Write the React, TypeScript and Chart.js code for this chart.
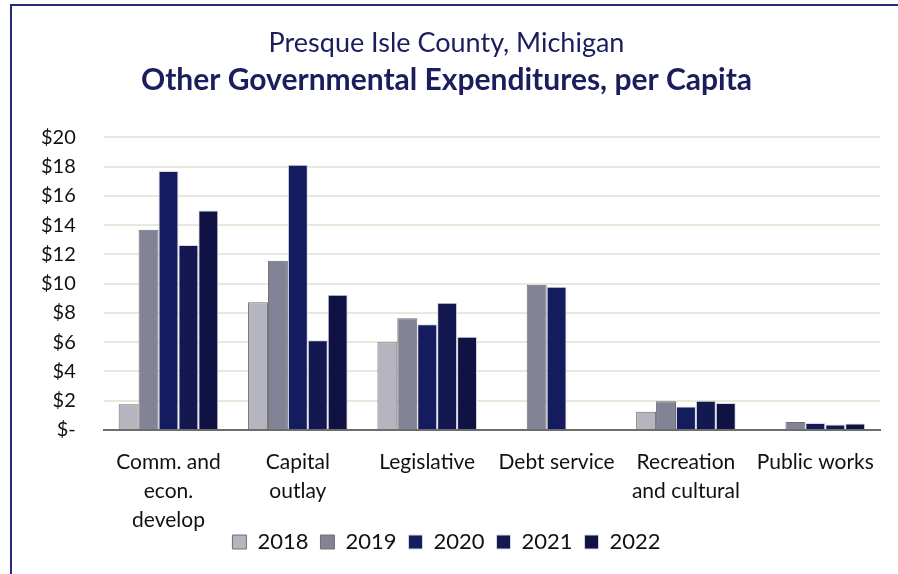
import React, { useEffect, useRef } from "react";
import { Chart, registerables } from "chart.js";

Chart.register(...registerables);

const categories: string[][] = [
  ["Comm. and", "econ.", "develop"],
  ["Capital", "outlay"],
  ["Legislative"],
  ["Debt service"],
  ["Recreation", "and cultural"],
  ["Public works"],
];
const years = ["2018", "2019", "2020", "2021", "2022"];
const v2018 = [1.76, 8.73, 5.99, 0, 1.25, 0];
const v2019 = [13.68, 11.57, 7.63, 9.93, 1.96, 0.55];
const v2020 = [17.7, 18.13, 7.22, 9.79, 1.6, 0.48];
const v2021 = [12.65, 6.14, 8.7, 0, 2.0, 0.38];
const v2022 = [15.0, 9.25, 6.37, 0, 1.85, 0.45];
const seriesValues = [v2018, v2019, v2020, v2021, v2022];
const fillColors = ["#b5b5c0", "#838397", "#151b5f", "#131851", "#0f1242"];
const edgeColors = ["#6e6e6e", "#6e6e6e", "#d8d8e2", "#d8d8e2", "#d8d8e2"];
const titleLine1 = "Presque Isle County, Michigan";
const titleLine2 = "Other Governmental Expenditures, per Capita";

const FONT = "Lato, 'Noto Sans', sans-serif";

export default function App() {
  const ref = useRef<HTMLCanvasElement | null>(null);
  useEffect(() => {
    if (!ref.current) return;
    const chart = new Chart(ref.current, {
      type: "bar",
      data: {
        labels: categories,
        datasets: years.map((y, i) => ({
          label: y,
          data: seriesValues[i],
          backgroundColor: fillColors[i],
          borderColor: edgeColors[i],
          borderWidth: 1,
          barPercentage: 1,
          categoryPercentage: 0.77,
        })),
      },
      options: {
        animation: false,
        responsive: false,
        maintainAspectRatio: false,
        layout: { padding: { left: 13, right: 18, top: 27, bottom: 11 } },
        plugins: {
          title: {
            display: true,
            text: titleLine1,
            color: "#1b1e5c",
            font: { family: FONT, size: 27, weight: "normal", lineHeight: 1.2 },
            padding: { top: 0, bottom: 3 },
          },
          subtitle: {
            display: true,
            text: titleLine2,
            color: "#1b1e5c",
            font: { family: FONT, size: 30, weight: "bold", lineHeight: 1.2 },
            padding: { top: 0, bottom: 39 },
          },
          legend: {
            position: "bottom",
            labels: {
              boxWidth: 14,
              boxHeight: 14,
              color: "#111",
              font: { family: FONT, size: 22 },
              padding: 12,
            },
          },
          tooltip: { enabled: false },
        },
        scales: {
          x: {
            grid: { display: false, drawTicks: false },
            border: { display: true, color: "#6d6d6d", width: 2 },
            ticks: {
              color: "#111",
              font: { family: FONT, size: 21, lineHeight: 1.38 },
              padding: 18,
              maxRotation: 0,
              autoSkip: false,
            },
            afterFit: (scale: any) => {
              scale.height = 89;
              scale._computeLabelArea = () => undefined;
            },
          },
          y: {
            min: 0,
            max: 20,
            grid: { color: "#e8e8dc", lineWidth: 2, drawTicks: false },
            border: { display: false },
            ticks: {
              stepSize: 2,
              autoSkip: false,
              color: "#111",
              font: { family: FONT, size: 20 },
              padding: 28,
              callback: (v: any) => (Number(v) === 0 ? "$-" : "$" + v),
            },
          },
        },
      },
    });
    return () => chart.destroy();
  }, []);
  return (
    <div style={{ position: "fixed", left: 0, top: 0, width: 898, height: 574, background: "#fff" }}>
      <canvas ref={ref} width={898} height={574} style={{ position: "absolute", left: 0, top: 0 }} />
      <div
        style={{
          position: "absolute",
          left: 10,
          top: 4,
          right: 0,
          bottom: 0,
          borderLeft: "2px solid #262b80",
          borderTop: "2px solid #262b80",
          pointerEvents: "none",
        }}
      />
    </div>
  );
}
